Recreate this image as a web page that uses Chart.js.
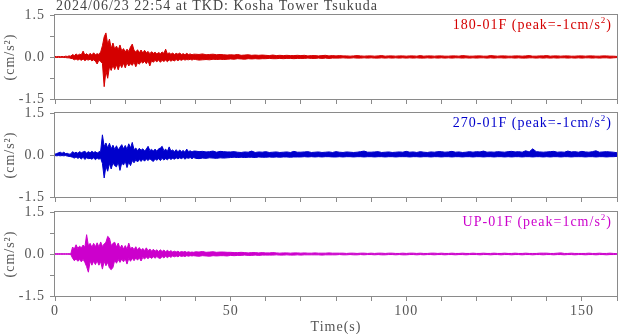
<!DOCTYPE html>
<html>
<head>
<meta charset="utf-8">
<title>2024/06/23 22:54 at TKD: Kosha Tower Tsukuda</title>
<script src="https://cdn.jsdelivr.net/npm/chart.js@4.4.1/dist/chart.umd.min.js"></script>
<style>
  body { margin: 0; background: #fff; }
  #wrap { position: relative; width: 618px; height: 334px; }
  canvas { position: absolute; left: 0; }
</style>
</head>
<body>
<div id="wrap">
  <canvas id="c180" width="618" height="106" style="top:0"></canvas>
  <canvas id="c270" width="618" height="98" style="top:106px"></canvas>
  <canvas id="cUP" width="618" height="130" style="top:204px"></canvas>
</div>
<script>
// Envelope of the acceleration trace, in 1/100 cm/s^2.
// "Early" = one max/min every 0.5 s from 0 to 39.5 s, "Late" = every 1 s from 40 to 160 s
const title = '2024/06/23 22:54 at TKD: Kosha Tower Tsukuda';
const channels = ['180-01F', '270-01F', 'UP-01F'];
const peaks = [-1, -1, 1];
const xTicks = [0, 50, 100, 150];
const yTicks = [-1.5, 0, 1.5];

// 180-01F
const ch180HiEarly = [
  2, 1, 2, 1, 2, 1, 3, 2, 4, 3,
  9, 5, 11, 6, 10, 8, 21, 7, 12, 6,
  13, 7, 15, 8, 12, 9, 18, 40, 72, 86,
  45, 64, 30, 50, 28, 39, 26, 43, 22, 30,
  18, 28, 20, 36, 46, 24, 18, 26, 15, 25,
  14, 24, 15, 20, 12, 19, 13, 17, 11, 16,
  12, 18, 13, 28, 11, 15, 10, 14, 9, 13,
  10, 14, 9, 12, 8, 13, 9, 11, 8, 10
];
const ch180LoEarly = [
  -1, -2, -1, -2, -1, -2, -2, -3, -3, -5,
  -6, -10, -7, -11, -8, -12, -7, -13, -9, -11,
  -8, -14, -10, -15, -25, -11, -17, -22, -106, -50,
  -76, -35, -48, -30, -45, -28, -46, -25, -38, -22,
  -39, -20, -32, -24, -30, -18, -35, -20, -26, -16,
  -22, -15, -24, -14, -32, -13, -19, -12, -17, -11,
  -19, -12, -16, -11, -17, -10, -15, -11, -14, -9,
  -13, -9, -12, -8, -11, -9, -10, -8, -11, -8
];
const ch180HiLate = [
  10, 9, 11, 8, 9, 10, 8, 9, 8, 7,
  8, 7, 9, 6, 7, 8, 6, 7, 6, 7,
  6, 5, 7, 5, 6, 5, 6, 5, 5, 6,
  5, 6, 4, 5, 5, 4, 5, 6, 4, 5,
  4, 5, 4, 4, 3, 4, 5, 4, 3, 4,
  4, 3, 4, 5, 3, 4, 4, 3, 4, 4,
  3, 4, 4, 3, 5, 3, 4, 4, 3, 4,
  4, 3, 3, 4, 4, 3, 5, 4, 3, 3,
  4, 4, 3, 3, 5, 4, 3, 4, 4, 3,
  3, 4, 4, 3, 4, 5, 3, 3, 4, 4,
  5, 3, 4, 4, 3, 4, 4, 3, 3, 4,
  4, 3, 4, 4, 3, 3, 4, 4, 3, 3,
  2
];
const ch180LoLate = [
  -9, -11, -10, -9, -10, -8, -9, -8, -9, -8,
  -7, -8, -6, -7, -8, -6, -7, -6, -7, -6,
  -6, -5, -6, -6, -5, -6, -5, -5, -6, -5,
  -5, -5, -4, -5, -5, -4, -5, -4, -5, -4,
  -4, -4, -3, -4, -4, -3, -4, -4, -3, -4,
  -3, -4, -4, -3, -4, -3, -4, -3, -4, -3,
  -4, -3, -4, -3, -4, -4, -3, -4, -3, -4,
  -3, -4, -3, -4, -3, -3, -4, -3, -4, -3,
  -4, -3, -3, -4, -3, -4, -3, -3, -4, -3,
  -3, -4, -3, -4, -4, -3, -3, -4, -3, -4,
  -3, -4, -3, -4, -3, -3, -4, -3, -4, -3,
  -4, -3, -3, -4, -3, -4, -3, -3, -4, -3,
  -2
];

// 270-01F
const ch270HiEarly = [
  3, 5, 8, 10, 6, 10, 5, 6, 3, 4,
  12, 7, 10, 6, 12, 8, 11, 13, 7, 12,
  8, 13, 9, 12, 7, 11, 14, 72, 30, 43,
  25, 42, 22, 35, 20, 33, 18, 28, 37, 22,
  34, 20, 40, 25, 45, 19, 25, 15, 24, 17,
  22, 14, 21, 31, 16, 20, 14, 21, 13, 22,
  25, 31, 15, 21, 13, 29, 14, 18, 12, 19,
  11, 18, 12, 16, 10, 21, 12, 15, 11, 14
];
const ch270LoEarly = [
  -2, -3, -2, -3, -2, -3, -2, -4, -5, -6,
  -8, -11, -7, -12, -9, -14, -8, -16, -10, -13,
  -12, -15, -10, -17, -11, -15, -12, -30, -82, -40,
  -58, -30, -50, -28, -38, -42, -25, -55, -28, -36,
  -22, -45, -25, -38, -20, -28, -17, -25, -16, -23,
  -15, -22, -14, -20, -13, -19, -23, -14, -19, -13,
  -20, -12, -18, -13, -17, -11, -16, -12, -15, -10,
  -14, -10, -13, -9, -15, -10, -12, -9, -13, -9
];
const ch270HiLate = [
  14, 12, 13, 11, 12, 14, 10, 13, 12, 11,
  11, 12, 10, 9, 11, 10, 14, 9, 11, 10,
  12, 9, 10, 11, 9, 10, 11, 9, 13, 10,
  10, 11, 12, 9, 10, 11, 9, 10, 11, 9,
  12, 10, 9, 11, 10, 9, 10, 12, 14, 10,
  10, 11, 12, 9, 10, 11, 9, 10, 11, 10,
  13, 10, 11, 9, 12, 10, 9, 11, 10, 12,
  12, 10, 11, 13, 10, 11, 9, 10, 12, 10,
  12, 11, 14, 10, 11, 10, 12, 11, 10, 12,
  13, 11, 12, 10, 15, 11, 22, 12, 11, 10,
  11, 12, 13, 10, 11, 10, 14, 11, 12, 10,
  13, 11, 10, 12, 15, 10, 11, 12, 11, 10,
  8
];
const ch270LoLate = [
  -12, -13, -11, -12, -10, -11, -12, -10, -11, -10,
  -9, -8, -9, -8, -9, -8, -8, -9, -7, -8,
  -8, -7, -8, -7, -8, -7, -7, -8, -7, -7,
  -7, -6, -7, -6, -7, -6, -7, -6, -6, -7,
  -7, -6, -7, -6, -6, -7, -6, -6, -7, -6,
  -6, -7, -6, -6, -7, -6, -6, -7, -6, -6,
  -6, -7, -6, -6, -7, -6, -6, -7, -6, -6,
  -7, -6, -6, -7, -6, -6, -7, -6, -6, -7,
  -6, -6, -7, -6, -6, -7, -6, -6, -7, -6,
  -7, -6, -6, -7, -6, -6, -7, -6, -6, -7,
  -6, -7, -6, -6, -7, -6, -6, -7, -6, -6,
  -6, -7, -6, -6, -7, -6, -6, -7, -6, -6,
  -5
];

// UP-01F
const chUpHiEarly = [
  1, 1, 1, 1, 1, 1, 1, 1, 1, 1,
  25, 18, 33, 20, 28, 22, 32, 24, 69, 30,
  38, 24, 38, 26, 40, 25, 43, 27, 36, 42,
  63, 57, 30, 38, 42, 25, 39, 20, 32, 18,
  30, 17, 39, 18, 25, 15, 26, 14, 23, 13,
  20, 12, 22, 11, 18, 10, 17, 10, 15, 9,
  15, 9, 14, 8, 13, 8, 12, 7, 10, 7,
  10, 6, 9, 7, 9, 6, 8, 6, 7, 6
];
const chUpLoEarly = [
  -1, -1, -1, -1, -1, -1, -1, -1, -1, -2,
  -15, -24, -18, -26, -20, -28, -19, -30, -45, -65,
  -25, -40, -26, -38, -24, -40, -27, -54, -26, -42,
  -30, -50, -56, -48, -22, -33, -20, -30, -18, -28,
  -17, -36, -16, -26, -15, -24, -14, -22, -13, -25,
  -12, -18, -11, -17, -10, -16, -10, -15, -9, -14,
  -16, -9, -14, -8, -13, -8, -12, -7, -10, -7,
  -10, -6, -9, -7, -9, -6, -8, -6, -7, -6
];
const chUpHiLate = [
  8, 7, 9, 6, 7, 8, 6, 7, 7, 6,
  6, 5, 5, 6, 5, 4, 5, 5, 4, 5,
  4, 4, 5, 4, 3, 4, 4, 3, 4, 4,
  3, 4, 3, 3, 4, 3, 3, 3, 4, 3,
  3, 3, 3, 2, 3, 3, 2, 3, 3, 2,
  3, 2, 3, 3, 2, 3, 3, 2, 2, 3,
  2, 3, 3, 2, 3, 2, 2, 3, 3, 2,
  3, 2, 2, 3, 2, 2, 3, 2, 2, 3,
  2, 2, 3, 2, 2, 3, 2, 2, 3, 2,
  2, 3, 2, 2, 3, 2, 2, 2, 3, 3,
  3, 2, 2, 3, 4, 2, 2, 3, 2, 2,
  2, 2, 3, 2, 2, 3, 2, 2, 3, 2,
  1
];
const chUpLoLate = [
  -7, -8, -6, -7, -8, -6, -7, -6, -6, -7,
  -5, -6, -5, -5, -4, -5, -5, -4, -5, -4,
  -4, -4, -4, -3, -4, -4, -3, -4, -4, -3,
  -4, -3, -3, -3, -3, -3, -4, -3, -3, -3,
  -3, -2, -3, -3, -2, -3, -3, -2, -3, -2,
  -2, -3, -2, -3, -3, -2, -2, -3, -2, -3,
  -3, -2, -2, -3, -2, -3, -2, -2, -3, -2,
  -2, -3, -2, -2, -3, -2, -2, -3, -2, -2,
  -2, -3, -2, -2, -3, -2, -2, -3, -2, -2,
  -3, -2, -2, -3, -2, -2, -3, -2, -2, -3,
  -2, -2, -3, -2, -2, -3, -2, -2, -3, -2,
  -2, -3, -2, -2, -3, -2, -2, -3, -2, -2,
  -1
];

const colors = ['#d40000', '#0000cc', '#cc00cc'];
const axisGray = '#8a8a8a';
const textGray = '#555555';
const serif = 'Liberation Serif';

function toPoints(early, late) {
  const pts = [];
  early.forEach((v, i) => pts.push({ x: i * 0.5, y: v / 100 }));
  late.forEach((v, i) => pts.push({ x: 40 + i, y: v / 100 }));
  return pts;
}

// frame around the plot, the channel label and the page title
const panelText = {
  id: 'panelText',
  beforeDraw(chart) {
    chart.ctx.letterSpacing = '1px';
  },
  afterDraw(chart, args, o) {
    const { ctx, chartArea: a } = chart;
    ctx.save();
    ctx.strokeStyle = axisGray;
    ctx.lineWidth = 1;
    ctx.strokeRect(a.left - 0.5, a.top - 0.5, a.right - a.left + 1, a.bottom - a.top + 1);

    const main = o.name + ' (peak=' + o.peak + 'cm/s';
    ctx.textAlign = 'left';
    ctx.textBaseline = 'alphabetic';
    ctx.font = '14px "' + serif + '"';
    const wMain = ctx.measureText(main).width;
    const wEnd = ctx.measureText(')').width;
    ctx.font = '9px "' + serif + '"';
    const wSup = ctx.measureText('2').width;
    let x = a.right - 5 - wMain - wSup - wEnd;
    const y = a.top + 14;
    ctx.fillStyle = o.color;
    ctx.font = '14px "' + serif + '"';
    ctx.fillText(main, x, y);
    x += wMain;
    ctx.font = '9px "' + serif + '"';
    ctx.fillText('2', x, y - 6);
    x += wSup;
    ctx.font = '14px "' + serif + '"';
    ctx.fillText(')', x, y);

    if (o.title) {
      ctx.fillStyle = '#444444';
      ctx.fillText(o.title, a.left + 1, 10);
    }
    ctx.restore();
  }
};

function makePanel(id, idx, hiEarly, hiLate, loEarly, loLate, opts) {
  const font = { family: serif, size: 14 };
  new Chart(document.getElementById(id), {
    type: 'line',
    data: {
      datasets: [{
        data: toPoints(hiEarly, hiLate),
        borderColor: colors[idx],
        backgroundColor: colors[idx],
        borderWidth: 1,
        pointRadius: 0,
        tension: 0,
        fill: '+1'
      }, {
        data: toPoints(loEarly, loLate),
        borderColor: colors[idx],
        borderWidth: 1,
        pointRadius: 0,
        tension: 0,
        fill: false
      }]
    },
    options: {
      responsive: false,
      animation: false,
      devicePixelRatio: 1,
      layout: { padding: { top: opts.padTop, right: 1, bottom: 0, left: 0 } },
      plugins: {
        legend: { display: false },
        tooltip: { enabled: false },
        panelText: { name: channels[idx], peak: peaks[idx], color: colors[idx], title: opts.title }
      },
      scales: {
        x: {
          type: 'linear',
          min: 0,
          max: 160,
          afterFit: s => { s.height = opts.xHeight; s.paddingLeft = 0; s.paddingRight = 0; },
          border: { display: false },
          grid: { drawOnChartArea: false, color: axisGray, tickLength: 5 },
          ticks: {
            display: opts.showX,
            stepSize: 10,
            autoSkip: false,
            maxRotation: 0,
            padding: 2,
            color: textGray,
            font: font,
            callback: v => xTicks.includes(v) ? String(v) : ''
          },
          title: {
            display: opts.showX,
            text: 'Time(s)',
            color: textGray,
            font: { family: serif, size: 14, lineHeight: 1 },
            padding: { top: 0, bottom: 0 }
          }
        },
        y: {
          min: -1.5,
          max: 1.5,
          afterFit: s => { s.width = 55; s.paddingTop = 0; s.paddingBottom = 0; },
          border: { display: false },
          grid: { drawOnChartArea: false, color: axisGray, tickLength: 5 },
          ticks: {
            stepSize: 0.75,
            padding: 5,
            color: textGray,
            font: font,
            callback: v => yTicks.some(t => Math.abs(t - v) < 1e-9) ? v.toFixed(1) : ''
          },
          title: {
            display: true,
            text: '(cm/s²)',
            color: textGray,
            font: font,
            padding: { top: 2, bottom: 0 }
          }
        }
      }
    },
    plugins: [panelText]
  });
}

makePanel('c180', 0, ch180HiEarly, ch180HiLate, ch180LoEarly, ch180LoLate, { padTop: 15, xHeight: 7, showX: false, title: title });
makePanel('c270', 1, ch270HiEarly, ch270HiLate, ch270LoEarly, ch270LoLate, { padTop: 7, xHeight: 7, showX: false });
makePanel('cUP', 2, chUpHiEarly, chUpHiLate, chUpLoEarly, chUpLoLate, { padTop: 8, xHeight: 38, showX: true });
</script>
</body>
</html>
